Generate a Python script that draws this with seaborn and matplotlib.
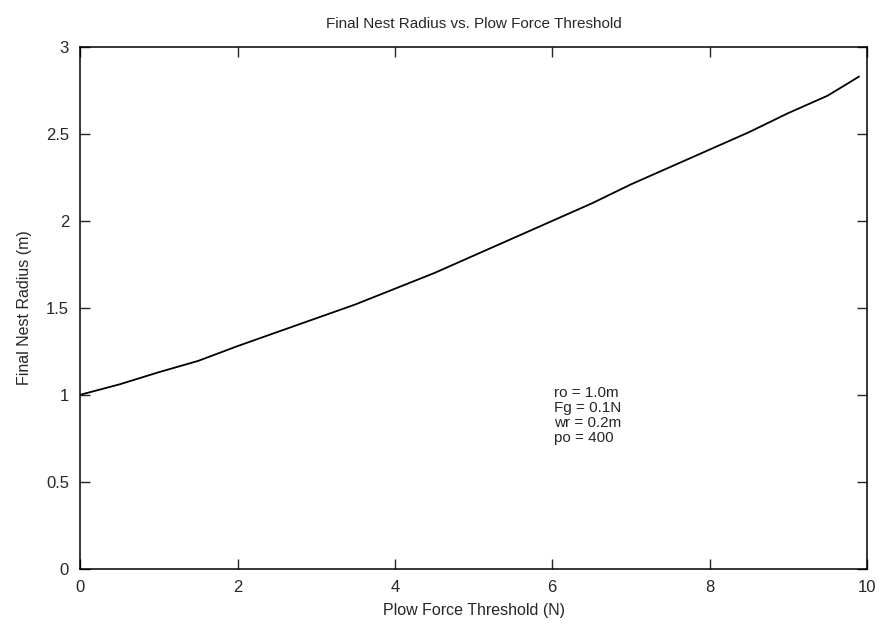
import numpy as np
import pandas as pd
import matplotlib
matplotlib.use("Agg")
import matplotlib.pyplot as plt
import seaborn as sns

# 데이터
plow_force = [0.0, 0.5, 1.0, 1.5, 2.0, 2.5, 3.0, 3.5, 4.0, 4.5, 5.0,
              5.5, 6.0, 6.5, 7.0, 7.5, 8.0, 8.5, 9.0, 9.5, 9.9]
nest_radius = [1.00, 1.06, 1.13, 1.195, 1.28, 1.36, 1.44, 1.52, 1.61, 1.70, 1.80,
               1.90, 2.00, 2.10, 2.21, 2.31, 2.41, 2.51, 2.62, 2.72, 2.83]
x_ticks = [0, 2, 4, 6, 8, 10]
y_ticks = [0, 0.5, 1, 1.5, 2, 2.5, 3]
params_text = "ro = 1.0m\nFg = 0.1N\nwr = 0.2m\npo = 400"

df = pd.DataFrame({"force": plow_force, "radius": nest_radius})

sns.set_style("ticks")
plt.rcParams["font.family"] = ["Liberation Sans", "DejaVu Sans"]

fig, ax = plt.subplots(figsize=(8.81, 6.27), dpi=100)
fig.subplots_adjust(left=0.091, right=0.984, top=0.925, bottom=0.093)

sns.lineplot(data=df, x="force", y="radius", color="black", linewidth=1.3, ax=ax)

ax.set_xlim(0, 10)
ax.set_ylim(0, 3)
ax.set_xticks(x_ticks)
ax.set_yticks(y_ticks)
ax.set_xticklabels([str(t) for t in x_ticks])
ax.set_yticklabels(["0", "0.5", "1", "1.5", "2", "2.5", "3"])
ax.tick_params(direction="in", top=True, right=True, length=7, width=1,
               labelsize=12, pad=8)
for s in ax.spines.values():
    s.set_linewidth(1.1)
    s.set_color("black")

# 제목, 축 이름
ax.set_title("Final Nest Radius vs. Plow Force Threshold", fontsize=11, pad=14)
ax.set_xlabel("Plow Force Threshold (N)", fontsize=11.5, labelpad=6)
ax.set_ylabel("Final Nest Radius (m)", fontsize=11.5, labelpad=10)

# 파라미터 텍스트
ax.text(6.02, 1.05, params_text, fontsize=11, va="top", ha="left",
        linespacing=1.1)

fig.savefig("out.png", dpi=100)
